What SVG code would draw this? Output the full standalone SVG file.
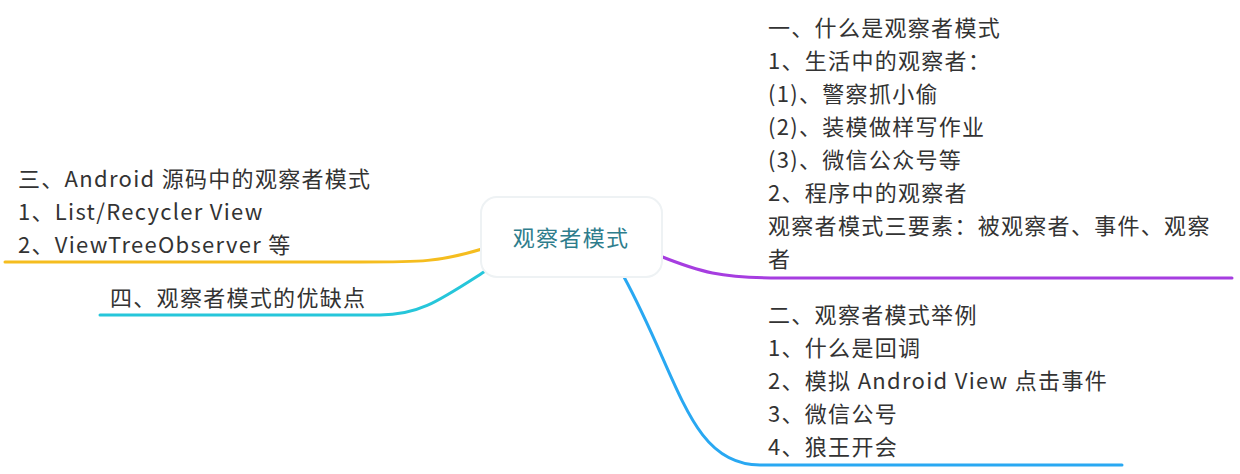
<svg xmlns="http://www.w3.org/2000/svg" width="1240" height="474" viewBox="0 0 1240 474">
<style>
text{font-family:"Noto Sans CJK SC","Noto Sans",sans-serif;font-size:22px;letter-spacing:1.3px;fill:#333}
.c{fill:none;stroke-width:3;stroke-linecap:round}
</style>
<rect width="1240" height="474" fill="#fff"/>
<g id="connectors">
<path class="c" stroke="#f5bd1f" d="M482 249 C440 262 420 262 360 262 L5 262"/>
<path class="c" stroke="#26c6da" d="M487 270 C440 300 420 315 380 315 L100 315"/>
<path class="c" stroke="#a63de0" d="M660 256 C700 272 720 278 780 278 L1232 278"/>
<path class="c" stroke="#29a8f2" d="M624 277 C680 380 690 465 760 465 L1122 465"/>
</g>
<g id="center">
<rect x="481" y="197" width="181" height="80" rx="16" fill="#fff" stroke="#eef2f4" stroke-width="2"/>
<text x="571" y="246" text-anchor="middle" style="fill:#2e7d8c;font-size:22px">观察者模式</text>
</g>
<g id="n1">
<text x="768" y="36">一、什么是观察者模式</text>
<text x="768" y="69">1、生活中的观察者：</text>
<text x="768" y="102">(1)、警察抓小偷</text>
<text x="768" y="135">(2)、装模做样写作业</text>
<text x="768" y="168">(3)、微信公众号等</text>
<text x="768" y="201">2、程序中的观察者</text>
<text x="768" y="234">观察者模式三要素：被观察者、事件、观察</text>
<text x="768" y="267">者</text>
</g>
<g id="n2">
<text x="768" y="323">二、观察者模式举例</text>
<text x="768" y="356">1、什么是回调</text>
<text x="768" y="389">2、模拟 Android View 点击事件</text>
<text x="768" y="422">3、微信公号</text>
<text x="768" y="455">4、狼王开会</text>
</g>
<g id="n3">
<text x="18" y="187">三、Android 源码中的观察者模式</text>
<text x="18" y="220">1、List/Recycler View</text>
<text x="18" y="253">2、ViewTreeObserver 等</text>
</g>
<g id="n4">
<text x="110" y="306">四、观察者模式的优缺点</text>
</g>
</svg>
